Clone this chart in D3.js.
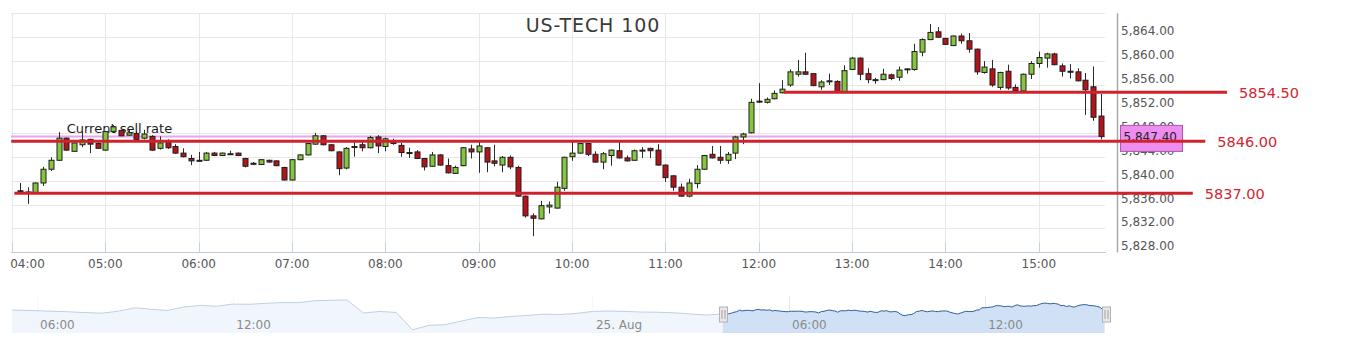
<!DOCTYPE html>
<html>
<head>
<meta charset="utf-8">
<script src="https://cdn.jsdelivr.net/npm/d3@7"></script>
<style>
  body { margin: 0; background: #fff; }
  svg { display: block; }
  text { font-family: "DejaVu Sans", sans-serif; }
</style>
</head>
<body>
<svg id="chart" width="1353" height="353"></svg>
<script>
// 5 minute candles, 25 Aug, 04:05 - 15:40
const candleOpen = [
  5838.3, 5838.1, 5838.0, 5839.6, 5841.9, 5843.4, 5847.1, 5844.9, 5846.0, 5846.9,
  5846.2, 5845.1, 5848.2, 5848.4, 5847.6, 5847.9, 5847.1, 5847.4, 5845.4, 5846.5,
  5845.7, 5844.6, 5843.7, 5843.4, 5843.4, 5844.6, 5844.2, 5844.5, 5844.6, 5843.7,
  5842.9, 5842.7, 5843.4, 5843.3, 5842.2, 5840.1, 5843.5, 5844.3, 5846.1, 5847.5,
  5846.0, 5844.8, 5842.1, 5845.7, 5846.0, 5845.5, 5847.3, 5845.7, 5846.7, 5845.9,
  5844.7, 5844.8, 5843.7, 5842.4, 5844.3, 5842.5, 5841.2, 5842.5, 5845.3, 5844.8,
  5845.5, 5843.3, 5842.6, 5843.9, 5842.2, 5837.4, 5834.1, 5833.6, 5835.6, 5835.4,
  5838.7, 5844.0, 5844.6, 5846.2, 5844.4, 5843.1, 5844.2, 5845.0, 5843.8, 5843.4,
  5845.0, 5845.4, 5845.1, 5842.6, 5840.8, 5838.9, 5837.4, 5839.5, 5841.9, 5844.4,
  5843.9, 5843.4, 5844.6, 5847.3, 5848.0, 5853.3, 5853.1, 5853.7, 5854.7, 5856.0,
  5857.8, 5858.2, 5857.9, 5855.7, 5856.6, 5856.6, 5854.9, 5858.6, 5860.5, 5857.9,
  5856.8, 5856.9, 5857.7, 5857.3, 5858.6, 5858.6, 5861.5, 5863.6, 5864.9, 5863.8,
  5862.6, 5864.2, 5863.4, 5862.0, 5858.1, 5858.7, 5855.6, 5858.3, 5855.6, 5855.0,
  5857.8, 5859.6, 5860.5, 5861.2, 5859.2, 5858.3, 5858.2, 5856.8, 5855.7, 5850.8
];
const candleHigh = [
  5839.6, 5838.9, 5839.7, 5842.3, 5843.9, 5848.1, 5847.2, 5846.4, 5848.2, 5847.0,
  5846.7, 5848.3, 5849.3, 5848.5, 5848.6, 5848.3, 5848.5, 5847.6, 5847.4, 5846.9,
  5846.1, 5845.4, 5844.3, 5844.8, 5844.8, 5844.8, 5844.7, 5845.0, 5844.7, 5843.8,
  5843.1, 5843.6, 5843.5, 5843.4, 5842.3, 5843.6, 5844.4, 5846.3, 5848.0, 5847.6,
  5846.1, 5844.9, 5845.6, 5846.5, 5846.6, 5847.5, 5847.6, 5847.2, 5847.0, 5846.3,
  5845.5, 5845.1, 5843.8, 5844.8, 5844.4, 5843.7, 5842.5, 5845.6, 5846.0, 5846.6,
  5845.6, 5846.0, 5844.1, 5844.2, 5842.5, 5837.5, 5834.5, 5836.6, 5836.5, 5839.8,
  5844.0, 5846.5, 5846.3, 5846.3, 5844.9, 5844.8, 5845.2, 5846.5, 5844.2, 5845.2,
  5845.6, 5845.5, 5846.1, 5842.7, 5840.9, 5839.5, 5840.3, 5842.6, 5844.3, 5845.8,
  5845.8, 5844.8, 5847.5, 5848.0, 5853.7, 5856.3, 5853.9, 5855.1, 5856.8, 5858.6,
  5860.2, 5861.4, 5858.0, 5856.8, 5857.9, 5856.8, 5859.3, 5860.7, 5860.6, 5858.8,
  5857.2, 5858.7, 5857.9, 5859.1, 5858.8, 5862.9, 5863.8, 5866.2, 5865.7, 5863.9,
  5864.3, 5864.6, 5864.7, 5862.1, 5860.0, 5860.2, 5858.2, 5859.4, 5856.1, 5857.9,
  5860.0, 5861.6, 5861.4, 5861.4, 5859.6, 5859.5, 5858.8, 5858.0, 5859.1, 5854.5
];
const candleLow = [
  5838.0, 5836.1, 5837.9, 5839.1, 5841.6, 5843.3, 5845.0, 5844.8, 5845.6, 5844.6,
  5845.3, 5845.0, 5848.1, 5847.4, 5847.5, 5846.8, 5846.9, 5845.0, 5845.2, 5845.3,
  5844.5, 5843.9, 5842.6, 5843.2, 5843.3, 5844.1, 5844.1, 5844.4, 5844.1, 5842.2,
  5842.6, 5842.6, 5843.0, 5842.4, 5840.0, 5840.0, 5843.4, 5844.2, 5846.0, 5845.9,
  5844.9, 5840.9, 5841.9, 5844.0, 5844.9, 5845.4, 5844.6, 5844.9, 5846.0, 5844.0,
  5843.8, 5843.6, 5841.7, 5842.3, 5842.5, 5841.2, 5841.1, 5842.4, 5843.7, 5841.3,
  5841.4, 5842.4, 5841.4, 5841.9, 5837.3, 5833.8, 5830.7, 5833.5, 5834.5, 5835.3,
  5838.3, 5843.3, 5844.5, 5844.1, 5843.0, 5841.9, 5842.5, 5843.7, 5843.2, 5843.3,
  5843.8, 5843.8, 5842.5, 5839.8, 5838.3, 5837.3, 5837.2, 5838.7, 5841.8, 5843.7,
  5842.8, 5842.8, 5843.6, 5846.1, 5847.9, 5853.0, 5852.9, 5853.6, 5854.6, 5855.7,
  5857.4, 5857.7, 5855.8, 5855.2, 5856.0, 5854.8, 5854.7, 5858.5, 5856.8, 5856.3,
  5856.2, 5856.8, 5856.8, 5856.7, 5857.9, 5858.4, 5860.8, 5863.5, 5863.9, 5862.7,
  5862.5, 5862.9, 5861.4, 5857.7, 5857.9, 5855.7, 5855.2, 5855.2, 5854.8, 5854.9,
  5857.0, 5858.9, 5858.9, 5859.3, 5857.4, 5857.1, 5856.6, 5851.0, 5850.0, 5846.9
];
const candleClose = [
  5838.2, 5838.0, 5839.6, 5841.9, 5843.4, 5847.1, 5845.1, 5846.3, 5846.8, 5846.1,
  5845.4, 5848.2, 5849.0, 5847.5, 5848.0, 5846.9, 5847.8, 5845.1, 5846.3, 5845.5,
  5844.6, 5844.0, 5843.3, 5843.3, 5844.6, 5844.2, 5844.6, 5844.5, 5844.2, 5842.4,
  5842.8, 5843.5, 5843.1, 5842.5, 5840.1, 5843.5, 5844.3, 5846.2, 5847.5, 5846.0,
  5845.0, 5842.0, 5845.4, 5845.6, 5845.5, 5847.2, 5845.8, 5847.0, 5846.2, 5844.7,
  5844.6, 5843.7, 5842.3, 5844.3, 5842.6, 5841.3, 5842.2, 5845.5, 5844.8, 5845.8,
  5843.1, 5842.9, 5843.9, 5842.3, 5837.4, 5834.1, 5833.7, 5835.8, 5835.9, 5838.9,
  5843.9, 5844.6, 5846.2, 5844.4, 5843.1, 5844.5, 5845.1, 5843.8, 5843.3, 5845.0,
  5845.1, 5845.0, 5842.6, 5840.5, 5838.9, 5837.4, 5839.6, 5841.9, 5844.2, 5843.8,
  5843.4, 5844.4, 5847.3, 5847.8, 5853.1, 5853.2, 5853.6, 5854.6, 5855.3, 5858.2,
  5858.2, 5857.8, 5855.9, 5856.5, 5856.7, 5854.9, 5858.4, 5860.5, 5857.8, 5856.9,
  5856.9, 5857.8, 5857.1, 5858.5, 5858.7, 5861.6, 5863.6, 5864.8, 5864.0, 5862.8,
  5864.2, 5863.4, 5862.0, 5858.2, 5859.0, 5856.0, 5858.1, 5855.5, 5855.0, 5857.8,
  5859.6, 5860.6, 5861.2, 5859.4, 5858.3, 5858.2, 5856.7, 5855.2, 5850.6, 5847.4
];

// navigator history, 30 min steps, 24 Aug 05:15 - 21:15 and 22:15 - 25 Aug 03:45
const navHistory = [
  5847.5, 5846.8, 5845.8, 5844.3, 5843.0, 5841.0, 5839.5, 5844.5, 5853.0, 5849.3, 5846.3,
  5855.0, 5858.8, 5856.8, 5862.3, 5861.8, 5864.0, 5866.0, 5865.8, 5870.8, 5871.8,
  5872.5, 5840.0, 5843.8, 5841.3, 5798.0, 5809.3, 5810.8, 5820.0, 5828.8, 5827.5,
  5831.3, 5833.8,
  5837.0, 5836.3, 5838.8, 5843.8, 5845.0, 5843.8, 5842.5, 5841.8, 5840.5, 5837.5,
  5835.0
];

// drawn levels: where each line sits, its label, start/end time
const levelValues = [5846.6, 5854.8, 5837.9];
const levelLabels = ["5846.00", "5854.50", "5837.00"];
const levelStart = [new Date(2017, 7, 25, 3, 59, 30), new Date(2017, 7, 25, 12, 16), new Date(2017, 7, 25, 4, 1, 30)];
const levelEnd = [new Date(2017, 7, 25, 16, 47), new Date(2017, 7, 25, 17, 1), new Date(2017, 7, 25, 16, 39)];

const currentRate = 5847.40;
const yTicks = d3.range(5828, 5869, 4);
const navTicks = [
  [new Date(2017, 7, 24, 6), "06:00"],
  [new Date(2017, 7, 24, 12), "12:00"],
  [new Date(2017, 7, 25, 0), "25. Aug"],
  [new Date(2017, 7, 25, 6), "06:00"],
  [new Date(2017, 7, 25, 12), "12:00"]
];

const candleTimes = d3.timeMinute.every(5).range(new Date(2017, 7, 25, 4, 5), new Date(2017, 7, 25, 15, 41));
const candles = candleTimes.map((t, i) => ({
  t, o: candleOpen[i], h: candleHigh[i], l: candleLow[i], c: candleClose[i]
}));

const svg = d3.select("#chart");
const plotL = 11, plotR = 1105, plotT = 13.3, plotB = 252.3;

const x = d3.scaleTime()
    .domain([new Date(2017, 7, 25, 3, 59, 21), new Date(2017, 7, 25, 15, 42, 33)])
    .range([plotL, plotR]);
const y = d3.scaleLinear().domain([5828, 5868]).range([plotB, plotT]);

// grid
const hours = d3.timeHour.range(new Date(2017, 7, 25, 4), new Date(2017, 7, 25, 15, 1));
svg.append("g").selectAll("line").data(hours).join("line")
    .attr("x1", d => Math.round(x(d)) + 0.5).attr("x2", d => Math.round(x(d)) + 0.5)
    .attr("y1", plotT).attr("y2", plotB)
    .attr("stroke", "#e4e9f0");
svg.append("g").selectAll("line").data(yTicks).join("line")
    .attr("x1", plotL).attr("x2", plotR)
    .attr("y1", d => Math.round(y(d)) + 0.5).attr("y2", d => Math.round(y(d)) + 0.5)
    .attr("stroke", "#e8e8e8");

// x axis
svg.append("line")
    .attr("x1", plotL).attr("x2", plotR + 1)
    .attr("y1", Math.round(plotB) + 0.5).attr("y2", Math.round(plotB) + 0.5)
    .attr("stroke", "#c0ccd8");
svg.append("g").selectAll("line").data(hours).join("line")
    .attr("x1", d => Math.round(x(d)) + 0.5).attr("x2", d => Math.round(x(d)) + 0.5)
    .attr("y1", plotB - 10).attr("y2", plotB)
    .attr("stroke", "#c8d2dc");
svg.append("g").selectAll("text").data(hours).join("text")
    .attr("x", d => Math.max(x(d), 27.5))
    .attr("y", 268)
    .attr("text-anchor", "middle")
    .attr("font-size", 12)
    .attr("fill", "#555")
    .text(d3.timeFormat("%H:%M"));

// y axis (right)
svg.append("line")
    .attr("x1", 1117.5).attr("x2", 1117.5)
    .attr("y1", plotT).attr("y2", plotB)
    .attr("stroke", "#a8a8a8").attr("stroke-width", 1.5);
svg.append("g").selectAll("text").data(yTicks.filter(d => d < 5868)).join("text")
    .attr("x", 1121)
    .attr("y", d => y(d) - 2)
    .attr("font-size", 12)
    .attr("fill", "#555")
    .text(d3.format(",.2f"));

// title
svg.append("text")
    .attr("x", 593).attr("y", 32)
    .attr("text-anchor", "middle")
    .attr("font-size", 19)
    .attr("fill", "#3a3a3a")
    .attr("letter-spacing", 0.9)
    .text("US-TECH 100");

// current sell rate line
svg.append("line")
    .attr("x1", plotL).attr("x2", plotR)
    .attr("y1", y(currentRate)).attr("y2", y(currentRate))
    .attr("stroke", "#e9a6ec").attr("stroke-width", 2);
svg.append("text")
    .attr("x", 66.7).attr("y", 132.5)
    .attr("font-size", 13)
    .attr("fill", "#1a1a1a")
    .text("Current sell rate");

// candles
const cg = svg.append("g");
cg.selectAll("line").data(candles).join("line")
    .attr("x1", d => Math.round(x(d.t)) + 0.5).attr("x2", d => Math.round(x(d.t)) + 0.5)
    .attr("y1", d => y(d.h)).attr("y2", d => y(d.l))
    .attr("stroke", "#2a2a2a");
cg.selectAll("rect").data(candles).join("rect")
    .attr("x", d => Math.round(x(d.t)) - 2)
    .attr("width", 5)
    .attr("y", d => y(Math.max(d.o, d.c)))
    .attr("height", d => Math.max(1, Math.abs(y(d.o) - y(d.c))))
    .attr("fill", d => d.c >= d.o ? "#86c53e" : "#b3141b")
    .attr("stroke", "#1e1e1e");

// price box (sits over the axis labels, as in the source)
svg.append("rect")
    .attr("x", 1120.5).attr("y", y(currentRate) - 11)
    .attr("width", 62).attr("height", 26)
    .attr("fill", "#ef8cef").attr("stroke", "#a75aa7");
svg.append("text")
    .attr("x", 1123.5).attr("y", y(currentRate) + 5)
    .attr("font-size", 12)
    .attr("fill", "#222")
    .text(d3.format(",.2f")(currentRate));

// drawn levels
const lv = svg.append("g");
levelValues.forEach((v, i) => {
  lv.append("line")
      .attr("x1", x(levelStart[i])).attr("x2", x(levelEnd[i]))
      .attr("y1", y(v)).attr("y2", y(v))
      .attr("stroke", "#cf222c").attr("stroke-width", 3);
  lv.append("text")
      .attr("x", x(levelEnd[i]) + 12).attr("y", y(v) + 5.5)
      .attr("font-family", "Liberation Sans, Arial, sans-serif")
      .attr("font-size", 14.5)
      .attr("fill", "#d3252f")
      .text(levelLabels[i]);
});

// navigator
const gapStart = new Date(2017, 7, 24, 21, 15), gapEnd = new Date(2017, 7, 24, 22, 15);
const navStart = new Date(2017, 7, 24, 5, 13);
const trade = t => (t - navStart) - (t >= gapEnd ? gapEnd - gapStart : 0);
const navX = d3.scaleLinear()
    .domain([0, trade(x.domain()[1])])
    .range([plotL, plotR + 1]);
const navY = d3.scaleLinear().domain([5790, 5882.5]).range([333, 296]);

const histTimes = [new Date(2017, 7, 24, 5, 15)]
    .concat(d3.timeMinute.every(30).range(new Date(2017, 7, 24, 5, 30), new Date(2017, 7, 24, 21, 1)))
    .concat(d3.timeMinute.every(30).range(new Date(2017, 7, 24, 22, 30), new Date(2017, 7, 25, 3, 31)));
const navData = histTimes.map((t, i) => ({ t, v: navHistory[i] }))
    .concat(candles.map(d => ({ t: d.t, v: d.c })));

const ng = svg.append("g");
ng.selectAll("line").data(navTicks).join("line")
    .attr("x1", d => Math.round(navX(trade(d[0]))) + 0.5).attr("x2", d => Math.round(navX(trade(d[0]))) + 0.5)
    .attr("y1", 296).attr("y2", 333)
    .attr("stroke", "#e6e6e6");
ng.append("path").datum(navData)
    .attr("d", d3.area().x(d => navX(trade(d.t))).y0(333).y1(d => navY(d.v)))
    .attr("fill", "#d0e1f6");
ng.append("path").datum(navData)
    .attr("d", d3.line().x(d => navX(trade(d.t))).y(d => navY(d.v)))
    .attr("fill", "none").attr("stroke", "#2d5f9f").attr("stroke-width", 1);

const selL = navX(trade(x.domain()[0])), selR = navX(trade(x.domain()[1]));
ng.append("rect")
    .attr("x", plotL - 4).attr("y", 295).attr("width", selL - plotL + 4).attr("height", 39)
    .attr("fill", "#fff").attr("fill-opacity", 0.7);
ng.selectAll("text").data(navTicks).join("text")
    .attr("x", d => navX(trade(d[0])) + 3.5)
    .attr("y", 329)
    .attr("font-size", 12)
    .attr("fill", "#8a8a8a")
    .text(d => d[1]);

[selL, selR].forEach(hx => {
  const h = ng.append("g").attr("transform", `translate(${Math.round(hx) + 0.5},0)`);
  h.append("rect").attr("x", -4).attr("y", 307).attr("width", 8).attr("height", 15)
      .attr("fill", "#ebe7e8").attr("stroke", "#b2b1b6");
  h.append("line").attr("x1", -1.5).attr("x2", -1.5).attr("y1", 310).attr("y2", 319).attr("stroke", "#a0a0a0");
  h.append("line").attr("x1", 1.5).attr("x2", 1.5).attr("y1", 310).attr("y2", 319).attr("stroke", "#a0a0a0");
});
</script>
</body>
</html>
